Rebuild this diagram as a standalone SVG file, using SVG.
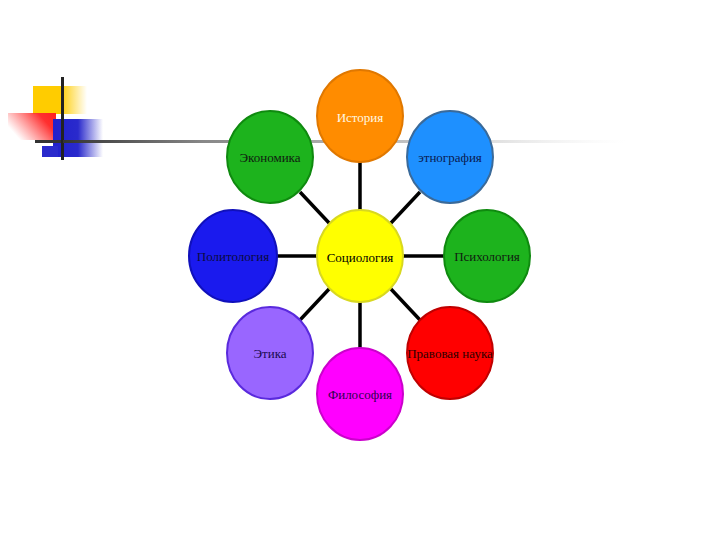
<svg xmlns="http://www.w3.org/2000/svg" width="720" height="540" viewBox="0 0 720 540">
<defs>
<linearGradient id="gY" x1="0" y1="0" x2="1" y2="0"><stop offset="0" stop-color="#ffcc00"/><stop offset="0.5" stop-color="#ffcc00"/><stop offset="1" stop-color="#ffcc00" stop-opacity="0"/></linearGradient>
<linearGradient id="gR" x1="1" y1="0" x2="0" y2="0.5"><stop offset="0" stop-color="#ff2020"/><stop offset="0.3" stop-color="#ff3030"/><stop offset="1" stop-color="#ff4040" stop-opacity="0"/></linearGradient>
<linearGradient id="gB" x1="0" y1="0" x2="1" y2="0"><stop offset="0" stop-color="#2020cc"/><stop offset="0.5" stop-color="#2a2acc"/><stop offset="1" stop-color="#2a2acc" stop-opacity="0"/></linearGradient>
<linearGradient id="gL" x1="0" y1="0" x2="1" y2="0"><stop offset="0" stop-color="#333"/><stop offset="0.25" stop-color="#888"/><stop offset="0.7" stop-color="#d0d0d0"/><stop offset="1" stop-color="#eee" stop-opacity="0"/></linearGradient>
</defs>
<style>
.c{stroke-width:2}
.t{font-family:"Liberation Serif","Times New Roman",serif;font-size:13px;text-anchor:middle}
.k{stroke:#000;stroke-width:3.5;fill:none}
</style>
<rect width="720" height="540" fill="#fff"/>
<g id="logo">
<rect x="33" y="86" width="54" height="28" fill="url(#gY)"/>
<rect x="8" y="113" width="48" height="27" fill="url(#gR)"/>
<rect x="53" y="119" width="50" height="38" fill="url(#gB)"/>
<rect x="42" y="146" width="16" height="11" fill="#2a2acc"/>
<rect x="35" y="140" width="28" height="3" fill="#333"/>
<rect x="61" y="77" width="3" height="83" fill="#222"/>
<rect x="63" y="140" width="562" height="3" fill="url(#gL)"/>
</g>
<g id="connectors">
<line class="k" x1="360" y1="256" x2="360" y2="160"/>
<line class="k" x1="360" y1="256" x2="360" y2="350"/>
<line class="k" x1="360" y1="256" x2="275" y2="256"/>
<line class="k" x1="360" y1="256" x2="445" y2="256"/>
<line class="k" x1="360" y1="256" x2="300" y2="192"/>
<line class="k" x1="360" y1="256" x2="420" y2="192"/>
<line class="k" x1="360" y1="256" x2="300" y2="320"/>
<line class="k" x1="360" y1="256" x2="420" y2="320"/>
</g>
<g id="n-history"><ellipse class="c" cx="360" cy="116" rx="43" ry="46" fill="#ff8c00" stroke="#e07800"/><text class="t" x="360" y="122" fill="#fff8e0">История</text></g>
<g id="n-economics"><ellipse class="c" cx="270" cy="157" rx="43" ry="46" fill="#1db31d" stroke="#0f8a0f"/><text class="t" x="270" y="162" fill="#102010">Экономика</text></g>
<g id="n-ethnography"><ellipse class="c" cx="450" cy="157" rx="43" ry="46" fill="#1e90ff" stroke="#3a6a9a"/><text class="t" x="450" y="162" fill="#0a1a50">этнография</text></g>
<g id="n-politics"><ellipse class="c" cx="233" cy="256" rx="44" ry="46" fill="#1a1aee" stroke="#1010bb"/><text class="t" x="233" y="261" fill="#0a0a40">Политология</text></g>
<g id="n-sociology"><ellipse class="c" cx="360" cy="256" rx="43" ry="46" fill="#ffff00" stroke="#d8d820"/><text class="t" x="360" y="262" fill="#000">Социология</text></g>
<g id="n-psychology"><ellipse class="c" cx="487" cy="256" rx="43" ry="46" fill="#1db31d" stroke="#0f8a0f"/><text class="t" x="487" y="261" fill="#102010">Психология</text></g>
<g id="n-ethics"><ellipse class="c" cx="270" cy="353" rx="43" ry="46" fill="#9966ff" stroke="#5a2add"/><text class="t" x="270" y="358" fill="#1a0a50">Этика</text></g>
<g id="n-law"><ellipse class="c" cx="450" cy="353" rx="43" ry="46" fill="#ff0000" stroke="#c00000"/><text class="t" x="450" y="358" fill="#300000">Правовая наука</text></g>
<g id="n-philosophy"><ellipse class="c" cx="360" cy="394" rx="43" ry="46" fill="#ff00ff" stroke="#cc00cc"/><text class="t" x="360" y="399" fill="#300050">Философия</text></g>
</svg>
